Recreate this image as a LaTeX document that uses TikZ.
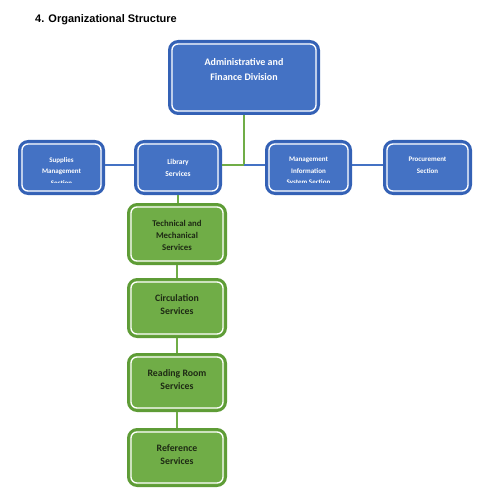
\documentclass[tikz,border=0pt]{standalone}
\usepackage{fontspec}
\setmainfont{Carlito}
\newfontfamily\arialf{Liberation Sans}
\definecolor{bfill}{HTML}{4472C4}
\definecolor{bedge}{HTML}{3461B5}
\definecolor{gfill}{HTML}{70AD47}
\definecolor{gedge}{HTML}{5E9C36}
\definecolor{gtext}{HTML}{1E2A14}
\tikzset{
  x=1pt, y=-1pt,
  bluebox/.style={draw=bedge, fill=bfill, line width=2.6pt, rounded corners=9pt, inner sep=0pt},
  greenbox/.style={draw=gedge, fill=gfill, line width=2.6pt, rounded corners=9pt, inner sep=0pt},
  whiteline/.style={draw=white, line width=1.3pt, rounded corners=6pt},
  btxt/.style={text=white, align=center, font=\bfseries\fontsize{7}{11.5}\selectfont, inner sep=0pt},
  gtxt/.style={text=gtext, align=center, font=\bfseries\fontsize{9.8}{13}\selectfont, inner sep=0pt},
  bline/.style={draw=bfill, line width=2pt},
  gline/.style={draw=gfill, line width=2pt}
}
\newcommand\innerline[1]{\draw[whiteline] ([shift={(4,4)}]#1.north west) rectangle ([shift={(-4,-4)}]#1.south east);}
\begin{document}
\begin{tikzpicture}
\useasboundingbox (0,0) rectangle (495,497);
\fill[white] (0,0) rectangle (495,497);
\node[anchor=base west, inner sep=0pt, font=\arialf\bfseries\fontsize{11}{13}\selectfont] (title) at (35,22.5) {4. Organizational Structure};

\node[bluebox, minimum width=149.4pt, minimum height=72.4pt] (top) at (244,77.5) {};
\node[bluebox, minimum width=84.4pt, minimum height=52.4pt] (sup) at (61.5,167.5) {};
\node[bluebox, minimum width=85.4pt, minimum height=52.4pt] (lib) at (178,167.5) {};
\node[bluebox, minimum width=84.4pt, minimum height=52.4pt] (mis) at (308.5,167.5) {};
\node[bluebox, minimum width=86.4pt, minimum height=52.4pt] (proc) at (427.5,167.5) {};
\node[greenbox, minimum width=97.4pt, minimum height=59.4pt] (tech) at (177,234) {};
\node[greenbox, minimum width=97.4pt, minimum height=57.4pt] (circ) at (177,308) {};
\node[greenbox, minimum width=97.4pt, minimum height=56.4pt] (read) at (177,382.5) {};
\node[greenbox, minimum width=97.4pt, minimum height=56.4pt] (ref) at (177,457.5) {};

\coordinate (j) at (244,165);
\draw[bline] ([yshift=2.5pt]sup.east) -- ([yshift=2.5pt]lib.west);
\draw[gline] ([yshift=2.5pt]lib.east) -- (j);
\draw[gline] (top.south) -- (j);
\draw[bline] (j) -- ([yshift=2.5pt]mis.west);
\draw[bline] ([yshift=2.5pt]mis.east) -- ([yshift=2.5pt]proc.west);
\draw[gline] (lib.south) -- (lib.south |- tech.north);
\draw[gline] (tech.south) -- (circ.north);
\draw[gline] (circ.south) -- (read.north);
\draw[gline] (read.south) -- (ref.north);

\foreach \n in {top,sup,lib,mis,proc,tech,circ,read,ref} {\innerline{\n}}

\node[btxt, font=\bfseries\fontsize{10}{15}\selectfont] (toptxt) at (244,70) {Administrative and\\Finance Division};
\begin{scope}
\clip (0,0) rectangle (495,182);
\node[btxt] (suptxt) at (61.5,171.5) {Supplies\\Management\\Section};
\node[btxt] (mistxt) at (308.5,171.5) {Management\\Information\\System Section};
\end{scope}
\node[btxt, font=\bfseries\fontsize{7.5}{12}\selectfont] (libtxt) at (178,167.5) {Library\\Services};
\node[btxt] (proctxt) at (427.5,165.5) {Procurement\\Section};
\node[gtxt, font=\bfseries\fontsize{8.8}{12}\selectfont] (techtxt) at (177,235.5) {Technical and\\Mechanical\\Services};
\node[gtxt] (circtxt) at (177,305) {Circulation\\Services};
\node[gtxt] (readtxt) at (177,380) {Reading Room\\Services};
\node[gtxt] (reftxt) at (177,455) {Reference\\Services};
\end{tikzpicture}
\end{document}
